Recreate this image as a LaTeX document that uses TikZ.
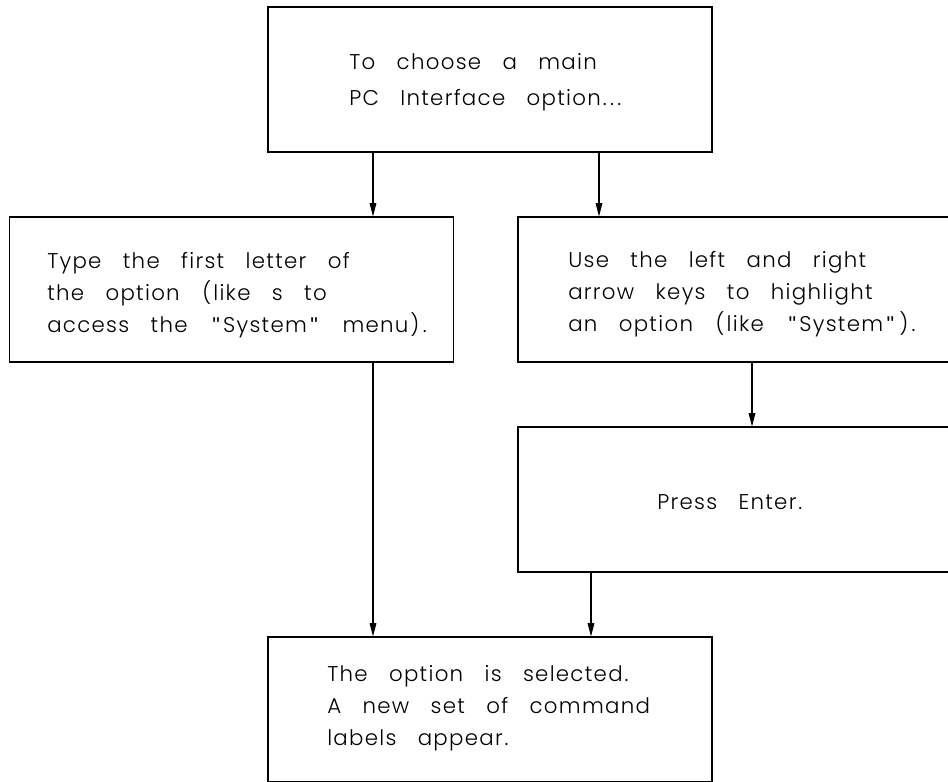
\documentclass[tikz,border=0pt]{standalone}
\usepackage{fontspec}
\setmainfont{Poppins}[UprightFont=* Light, LetterSpace=6, WordSpace=3]
\newfontfamily\quotefont{Liberation Sans}
\usetikzlibrary{arrows.meta}

% punctuation set a little wider, as in a plotter font
\newcommand\stQ{\hspace{2.5pt}{\quotefont"}\hspace{2.5pt}}
\newcommand\stOpen{\hspace{1pt}(\hspace{1.5pt}}
\newcommand\stClose{\hspace{1.5pt})\hspace{1pt}}
\newcommand\stDot{\hspace{1.5pt}.\hspace{1pt}}

\begin{document}
\begin{tikzpicture}[x=0.75pt, y=-0.75pt,
  stepbox/.style={draw, line width=0.8pt, inner sep=0pt,
    minimum width=444*0.75pt, minimum height=145*0.75pt},
  steptext/.style={anchor=west, align=left, inner sep=0pt,
    font=\fontsize{16}{24}\selectfont},
  conn/.style={line width=0.8pt, -{Triangle[width=5pt, length=10pt]}}]

  \useasboundingbox (0,0) rectangle (948,781);
  \fill[white] (0,0) rectangle (948,781);
  \clip (0,0) rectangle (948,781);

  % the five step boxes
  \node[stepbox] (top) at (490,79.5) {};
  \node[stepbox] (first) at (231.5,289.5) {};
  \node[stepbox, minimum width=472*0.75pt] (arrows) at (754,289.5) {};
  \node[stepbox, minimum width=434*0.75pt] (enter) at (735,499.5) {};
  \node[stepbox] (done) at (490,709.5) {};

  % their texts
  \node[steptext, font=\fontsize{16}{27}\selectfont] (topText) at (349,82)
    {To choose a main\\PC Interface option\stDot\stDot\stDot};
  \node[steptext] (firstText) at (47,295.5)
    {Type the first letter of\\the option \stOpen like s to\\access the \stQ System\stQ{} menu\stClose\stDot};
  \node[steptext] (arrowsText) at (568,294.5)
    {Use the left and right\\arrow keys to highlight\\an option \stOpen like \stQ System\stQ\stClose\stDot};
  \node[steptext] (enterText) at (657,502)
    {Press Enter\stDot};
  \node[steptext] (doneText) at (327,708)
    {The option is selected\stDot\\A new set of command\\labels appear\stDot};

  % x positions of the connectors
  \coordinate (xa) at (373,0);
  \coordinate (xb) at (599,0);
  \coordinate (xc) at (752,0);
  \coordinate (xd) at (591,0);

  \draw[conn] (top.south -| xa) -- (first.north -| xa);
  \draw[conn] (top.south -| xb) -- (arrows.north -| xb);
  \draw[conn] (arrows.south -| xc) -- (enter.north -| xc);
  \draw[conn] (first.south -| xa) -- (done.north -| xa);
  \draw[conn] (enter.south -| xd) -- (done.north -| xd);
\end{tikzpicture}
\end{document}
